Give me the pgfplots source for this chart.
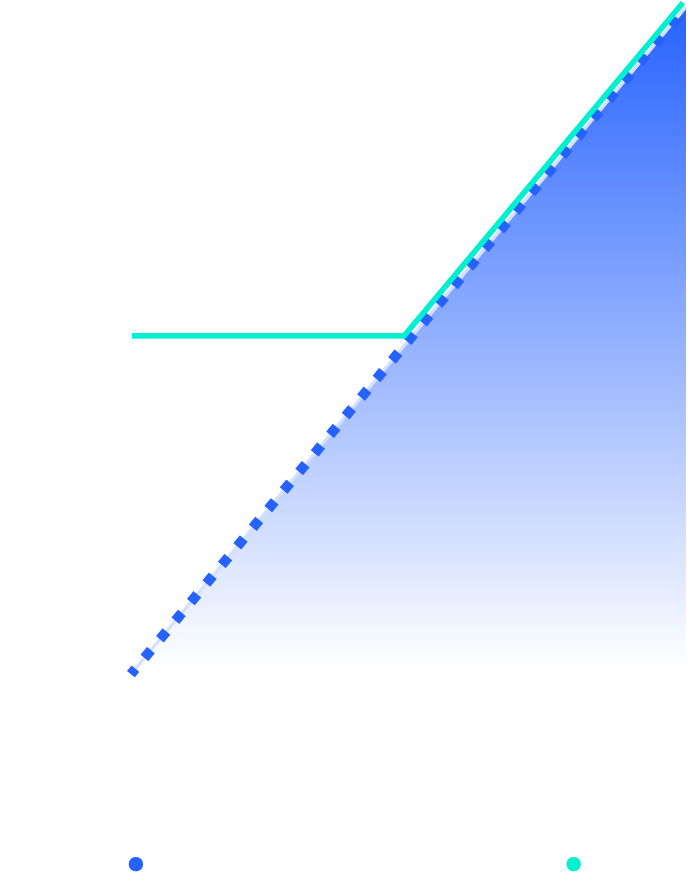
\documentclass[border=0pt]{standalone}
\usepackage{pgfplots}
\pgfplotsset{compat=1.18}
\definecolor{myblue}{RGB}{38,98,255}
\definecolor{myteal}{RGB}{0,240,208}
\begin{document}
\begin{tikzpicture}
\begin{axis}[
  scale only axis, width=689bp, height=884bp,
  xmin=-0.472, xmax=2.0108, ymin=-0.3148, ymax=1.0105,
  hide axis, clip=false]
\path (rel axis cs:0,0) rectangle (rel axis cs:1,1);
% area under series
\addplot[draw=none, top color=myblue, bottom color=white] coordinates {(0.018,0.009) (1,0.5) (2,1) (2,0.009)} -- cycle;
% pale underline of the blue series
\addplot[white!80!myblue, line width=3bp] coordinates {(0,0) (1,0.5) (2,1)};
% blue series
\addplot[myblue, line width=10bp, dash pattern=on 10bp off 14.2bp, dash phase=3bp] coordinates {(0,0) (1,0.5) (2,1)};
% teal series
\addplot[myteal, line width=5.5bp] coordinates {(0.0036,0.5075) (0.985,0.5075) (1.99,1.007)};
% legend dots
\addplot[only marks, mark=*, mark size=7bp, myblue, mark options={draw=myblue, fill=myblue}] coordinates {(0.018,-0.285)};
\addplot[only marks, mark=*, mark size=7bp, myteal, mark options={draw=myteal, fill=myteal}] coordinates {(1.596,-0.285)};
\end{axis}
\end{tikzpicture}
\end{document}
